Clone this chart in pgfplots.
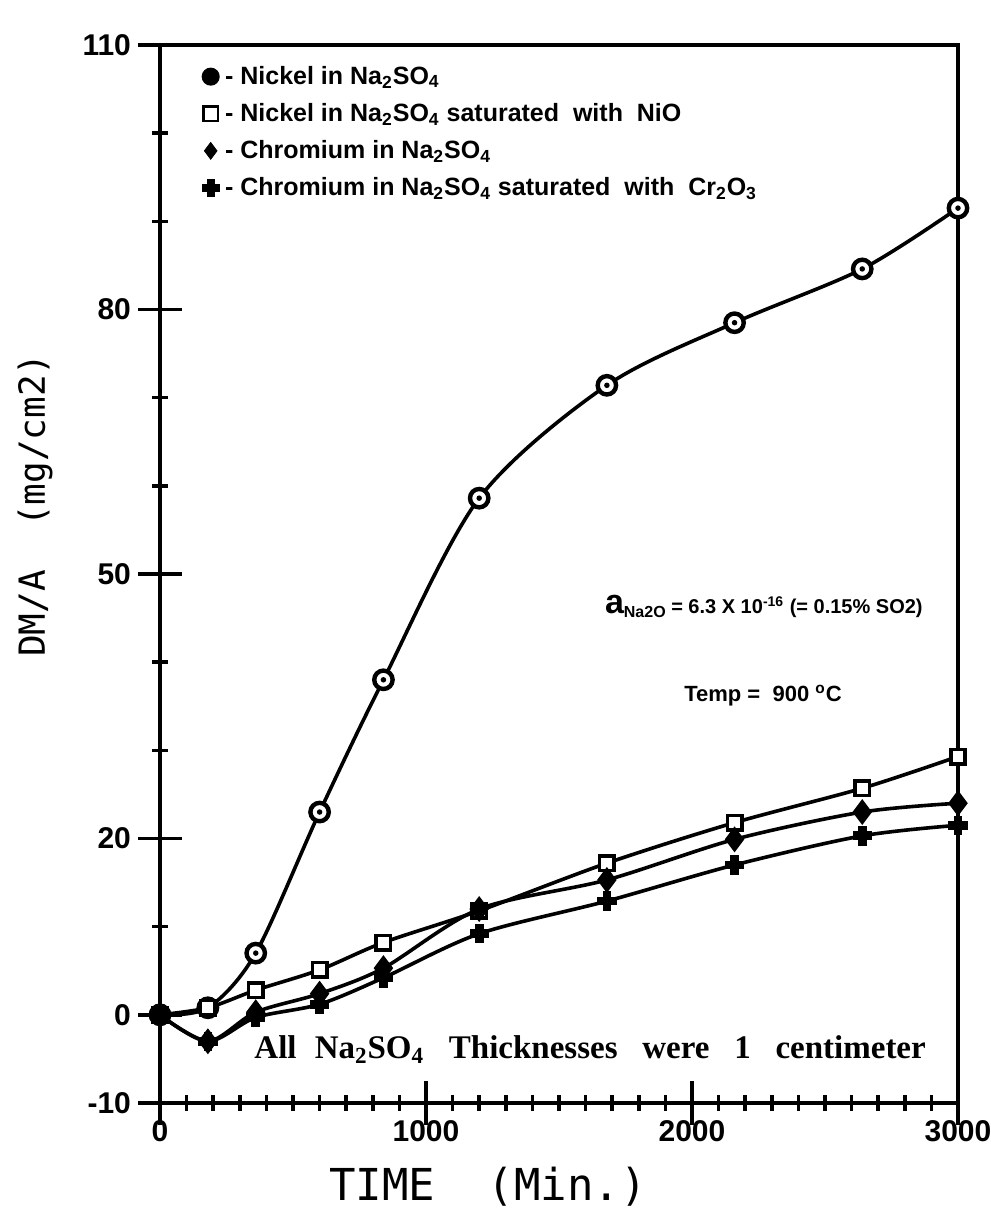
\documentclass[border=0pt]{standalone}
\usepackage{pgfplots}
\pgfplotsset{compat=1.18}
\usetikzlibrary{calc}
\usepackage{fontspec}
\setmainfont{Liberation Sans}
\newfontfamily\seriffont{Liberation Serif}
\newfontfamily\monofont{DejaVu Sans Mono}

\pgfdeclareplotmark{circdot}{%
  \pgfpathcircle{\pgfpointorigin}{\pgfplotmarksize}\pgfusepathqfillstroke
  \begin{pgfscope}\pgfsetfillcolor{black}%
  \pgfpathcircle{\pgfpointorigin}{0.3\pgfplotmarksize}\pgfusepathqfill\end{pgfscope}}
\pgfdeclareplotmark{fatplus}{%
  \pgfpathmoveto{\pgfpoint{-0.42\pgfplotmarksize}{\pgfplotmarksize}}%
  \pgfpathlineto{\pgfpoint{0.42\pgfplotmarksize}{\pgfplotmarksize}}%
  \pgfpathlineto{\pgfpoint{0.42\pgfplotmarksize}{0.42\pgfplotmarksize}}%
  \pgfpathlineto{\pgfpoint{\pgfplotmarksize}{0.42\pgfplotmarksize}}%
  \pgfpathlineto{\pgfpoint{\pgfplotmarksize}{-0.42\pgfplotmarksize}}%
  \pgfpathlineto{\pgfpoint{0.42\pgfplotmarksize}{-0.42\pgfplotmarksize}}%
  \pgfpathlineto{\pgfpoint{0.42\pgfplotmarksize}{-\pgfplotmarksize}}%
  \pgfpathlineto{\pgfpoint{-0.42\pgfplotmarksize}{-\pgfplotmarksize}}%
  \pgfpathlineto{\pgfpoint{-0.42\pgfplotmarksize}{-0.42\pgfplotmarksize}}%
  \pgfpathlineto{\pgfpoint{-\pgfplotmarksize}{-0.42\pgfplotmarksize}}%
  \pgfpathlineto{\pgfpoint{-\pgfplotmarksize}{0.42\pgfplotmarksize}}%
  \pgfpathlineto{\pgfpoint{-0.42\pgfplotmarksize}{0.42\pgfplotmarksize}}%
  \pgfpathclose\pgfusepathqfillstroke}

\pgfplotstableread{
t y
0 0
180 0.8
360 7.0
600 23.0
840 38.0
1200 58.6
1680 71.4
2160 78.5
2640 84.6
3000 91.5
}\nickel
\pgfplotstableread{
t y
0 0
180 0.8
360 2.8
600 5.1
840 8.2
1200 11.8
1680 17.2
2160 21.8
2640 25.7
3000 29.3
}\nickelsat
\pgfplotstableread{
t y
0 0
180 -3.0
360 0.3
600 2.4
840 5.3
1200 12.0
1680 15.3
2160 19.9
2640 23.0
3000 24.0
}\chrom
\pgfplotstableread{
t y
0 0
180 -3.0
360 -0.3
600 1.2
840 4.2
1200 9.2
1680 12.9
2160 17.0
2640 20.3
3000 21.5
}\chromsat

\begin{document}
\begin{tikzpicture}
\useasboundingbox (-80pt,-55.5pt) rectangle (415pt,551.5pt);
\begin{axis}[
  at={(0pt,0pt)}, anchor=south west,
  scale only axis, width=399pt, height=529pt,
  xmin=0, xmax=3000, ymin=-10, ymax=110,
  xtick={0,1000,2000,3000},
  minor xtick={100,200,...,2900},
  ytick={-10,0,20,50,80,110},
  minor ytick={10,30,40,60,70,90,100},
  xtick pos=lower, ytick pos=left,
  tick align=center,
  major tick length=22pt, minor tick length=8pt,
  axis line style={line width=2pt},
  every tick/.style={line width=1.8pt, black},
  ticklabel style={font=\bfseries\fontsize{15}{18}\selectfont},
  xticklabel style={yshift=6pt},
  /pgf/number format/assume math mode=true,
  /pgf/number format/1000 sep={},
  clip=false,
  legend style={at={(rel axis cs:0.045,0.988)}, anchor=north west, draw=none, fill=none,
    font=\bfseries\fontsize{12.5}{14}\selectfont, row sep=4pt,
    nodes={inner xsep=3pt}},
  legend cell align=left,
]
\addplot[line width=1.8pt, smooth, mark=circdot, mark size=4.6pt,
  mark options={line width=2.2pt, fill=white}, forget plot] table[x=t,y=y]{\nickel};
\addplot[line width=1.8pt, smooth, mark=square*, mark size=3.6pt,
  mark options={line width=1.8pt, fill=white}, forget plot] table[x=t,y=y]{\nickelsat};
\addplot[line width=1.8pt, smooth, mark=diamond*, mark size=5pt,
  mark options={fill=black}, forget plot] table[x=t,y=y]{\chrom};
\addplot[line width=1.8pt, smooth, mark=fatplus, mark size=4.6pt,
  mark options={fill=black, line width=0.5pt}, forget plot] table[x=t,y=y]{\chromsat};

\addlegendimage{only marks, mark=circdot, mark size=3.6pt, mark options={line width=1.8pt, fill=black}}
\addlegendentry{-\ Nickel\ in\ Na\textsubscript{2}SO\textsubscript{4}}
\addlegendimage{only marks, mark=square, mark size=3.6pt, mark options={line width=1.2pt}}
\addlegendentry{-\ Nickel\ in\ Na\textsubscript{2}SO\textsubscript{4}\ saturated\ \ with\ \ NiO}
\addlegendimage{only marks, mark=diamond*, mark size=4.2pt, mark options={fill=black}}
\addlegendentry{-\ Chromium\ in\ Na\textsubscript{2}SO\textsubscript{4}}
\addlegendimage{only marks, mark=fatplus, mark size=4.2pt, mark options={fill=black}}
\addlegendentry{-\ Chromium\ in\ Na\textsubscript{2}SO\textsubscript{4}\ saturated\ \ with\ \ Cr\textsubscript{2}O\textsubscript{3}}

\node[font=\bfseries\fontsize{10}{12}\selectfont, anchor=base] at (axis cs:2270,45.5)
  {{\fontsize{17}{18}\selectfont a}\raisebox{-2pt}{\fontsize{8}{9}\selectfont Na2O} = 6.3 X 10\textsuperscript{-16} (= 0.15\% SO2)};
\node[font=\bfseries\fontsize{11}{13}\selectfont, anchor=base] at (axis cs:2267,35.5)
  {Temp =\ \ 900 \textsuperscript{o}C};
\node[font=\seriffont\bfseries\fontsize{16.5}{19}\selectfont, anchor=base] at (axis cs:1617,-4.9)
  {All\hspace{0.55em}Na\textsubscript{2}SO\textsubscript{4}\hspace{0.75em}Thicknesses\hspace{0.75em}were\hspace{0.75em}1\hspace{0.75em}centimeter};
\node[font=\monofont\fontsize{22}{25}\selectfont, anchor=base] at ($(rel axis cs:0.411,0)+(0pt,-48.5pt)$)
  {TIME\ \ (Min.)};
\node[font=\monofont\fontsize{18}{20}\selectfont, anchor=base, rotate=90] at ($(rel axis cs:0,0.565)+(-57.5pt,0pt)$)
  {DM/A\ \ (mg/cm2)};
\end{axis}
\end{tikzpicture}
\end{document}
